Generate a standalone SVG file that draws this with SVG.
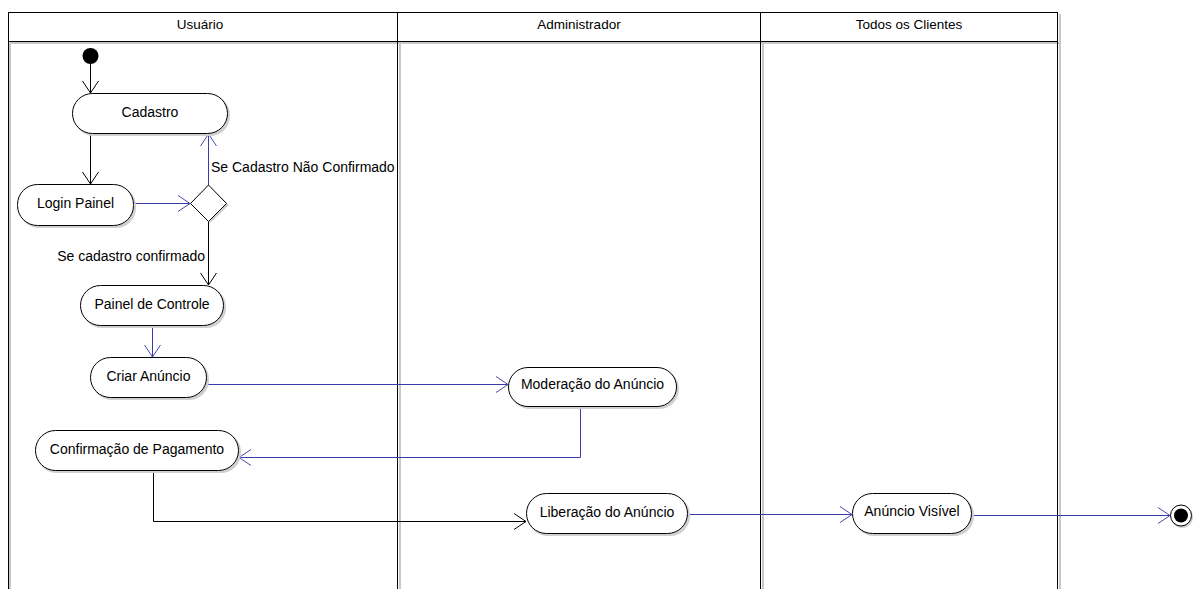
<svg xmlns="http://www.w3.org/2000/svg" width="1199" height="589" viewBox="0 0 1199 589">
<defs>
<style>
text{font-family:"Liberation Sans",Arial,sans-serif;font-size:14px;fill:#000}
text.h{font-size:13.5px}
.lane{fill:none;stroke:#000;stroke-width:1}
.lsh{fill:none;stroke:#c8c8c8;stroke-width:2}
.node rect.b{fill:#fff;stroke:#000;stroke-width:1}
.node rect.s{fill:#d0d0d0;stroke:none}
.k{fill:none;stroke:#000;stroke-width:1}
.u{fill:none;stroke:#3b3baa;stroke-width:1}
.mid{text-anchor:middle}
</style>
<marker id="ak" markerUnits="userSpaceOnUse" markerWidth="16" markerHeight="20" refX="14" refY="10" orient="auto" overflow="visible">
<path d="M2,2 L14,10 L2,18" fill="none" stroke="#000" stroke-width="1"/>
</marker>
<marker id="au" markerUnits="userSpaceOnUse" markerWidth="16" markerHeight="20" refX="14" refY="10" orient="auto" overflow="visible">
<path d="M2,2 L14,10 L2,18" fill="none" stroke="#4a4ab4" stroke-width="1"/>
</marker>
</defs>

<g id="swimlanes">
<path class="lsh" d="M10,43 H1060 M1060,14 V589 M400,43 V589 M763,43 V589 M10,43 V589"/>
<rect class="lane" x="8.5" y="12.5" width="1049" height="590" fill="none"/>
<line class="lane" x1="8" y1="41.5" x2="1058" y2="41.5"/>
<line class="lane" x1="397.5" y1="12" x2="397.5" y2="589"/>
<line class="lane" x1="760.5" y1="12" x2="760.5" y2="589"/>
<text class="mid h" x="200" y="29">Usuário</text>
<text class="mid h" x="579" y="29">Administrador</text>
<text class="mid h" x="909" y="29">Todos os Clientes</text>
</g>

<g id="connectors">
<line class="k" x1="90.5" y1="64" x2="90.5" y2="93" marker-end="url(#ak)"/>
<line class="k" x1="90.5" y1="134" x2="90.5" y2="184" marker-end="url(#ak)"/>
<line class="u" x1="134" y1="203.5" x2="190" y2="203.5" marker-end="url(#au)"/>
<line class="u" x1="208.5" y1="185" x2="208.5" y2="134" marker-end="url(#au)"/>
<text x="211" y="172">Se Cadastro Não Confirmado</text>
<line class="k" x1="208.5" y1="221" x2="208.5" y2="285" marker-end="url(#ak)"/>
<text x="205" y="261" text-anchor="end">Se cadastro confirmado</text>
<line class="u" x1="152.5" y1="326" x2="152.5" y2="357" marker-end="url(#au)"/>
<line class="u" x1="207" y1="384.5" x2="508" y2="384.5" marker-end="url(#au)"/>
<polyline class="u" points="580.5,407 580.5,457.5 239,457.5" marker-end="url(#au)"/>
<polyline class="k" points="153.5,471 153.5,521.5 526,521.5" marker-end="url(#ak)"/>
<line class="u" x1="688" y1="514.5" x2="852" y2="514.5" marker-end="url(#au)"/>
<line class="u" x1="972" y1="515.5" x2="1170" y2="515.5" marker-end="url(#au)"/>
</g>

<g id="start">
<circle cx="90.5" cy="56" r="8" fill="#000"/>
</g>

<g id="cadastro" class="node">
<rect class="s" x="74" y="95" width="156" height="41" rx="20"/>
<rect class="b" x="72.5" y="93.5" width="155" height="40" rx="20"/>
<text class="mid" x="150" y="117">Cadastro</text>
</g>

<g id="login" class="node">
<rect class="s" x="19" y="186" width="117" height="42" rx="20"/>
<rect class="b" x="17.5" y="184.5" width="116" height="41" rx="20"/>
<text class="mid" x="75.5" y="208">Login Painel</text>
</g>

<g id="decision">
<polygon points="210,187 229,205 210,223 192,205" fill="#d0d0d0"/>
<polygon points="208.5,185 226.5,203.5 208.5,221.5 190.5,203.5" fill="#fff" stroke="#000" stroke-width="1"/>
</g>

<g id="painel" class="node">
<rect class="s" x="82" y="287" width="144" height="41" rx="20"/>
<rect class="b" x="80.5" y="285.5" width="143" height="40" rx="20"/>
<text class="mid" x="152" y="309">Painel de Controle</text>
</g>

<g id="criar" class="node">
<rect class="s" x="92" y="359" width="117" height="41" rx="20"/>
<rect class="b" x="90.5" y="357.5" width="116" height="40" rx="20"/>
<text class="mid" x="148.5" y="381">Criar Anúncio</text>
</g>

<g id="moderacao" class="node">
<rect class="s" x="510" y="369" width="169" height="40" rx="20"/>
<rect class="b" x="508.5" y="367.5" width="168" height="39" rx="19.5"/>
<text class="mid" x="592.5" y="389">Moderação do Anúncio</text>
</g>

<g id="confirmacao" class="node">
<rect class="s" x="37" y="432" width="204" height="41" rx="20"/>
<rect class="b" x="35.5" y="430.5" width="203" height="40" rx="20"/>
<text class="mid" x="137" y="454">Confirmação de Pagamento</text>
</g>

<g id="liberacao" class="node">
<rect class="s" x="528" y="495" width="162" height="41" rx="20"/>
<rect class="b" x="526.5" y="493.5" width="161" height="40" rx="20"/>
<text class="mid" x="607" y="517">Liberação do Anúncio</text>
</g>

<g id="visivel" class="node">
<rect class="s" x="854" y="495" width="120" height="41" rx="20"/>
<rect class="b" x="852.5" y="493.5" width="119" height="40" rx="20"/>
<text class="mid" x="912" y="516">Anúncio Visível</text>
</g>

<g id="end">
<circle cx="1182" cy="517" r="11" fill="#d0d0d0"/>
<circle cx="1181" cy="515.5" r="10.5" fill="#fff" stroke="#000" stroke-width="1"/>
<circle cx="1181" cy="515.5" r="7" fill="#000"/>
</g>
</svg>
